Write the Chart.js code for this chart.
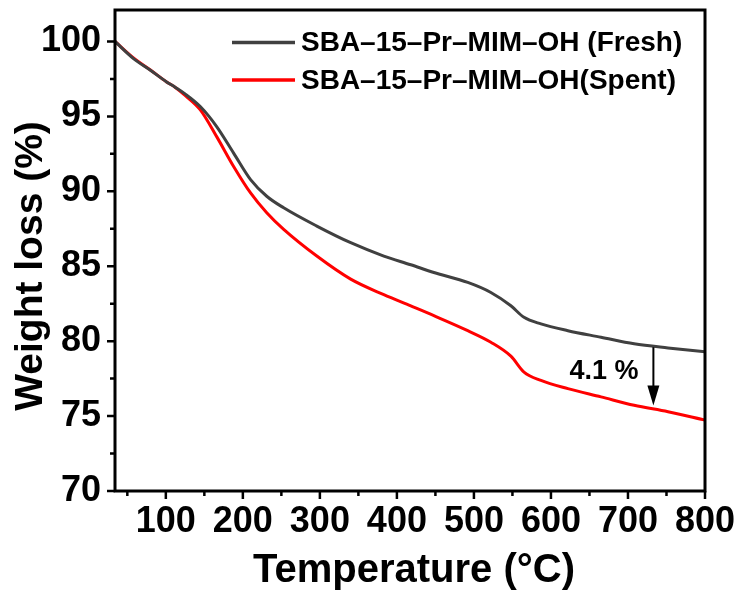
<!DOCTYPE html>
<html>
<head>
<meta charset="utf-8">
<script src="https://cdn.jsdelivr.net/npm/chart.js@4.4.0/dist/chart.umd.min.js"></script>
<style>
  html, body { margin: 0; padding: 0; background: #fff; }
  #wrap { width: 740px; height: 594px; }
</style>
</head>
<body>
<div id="wrap"><canvas id="tga" width="740" height="594"></canvas></div>
<script>
// TGA curves
var temps     = [34, 58, 80, 101, 112, 125, 145, 166, 188, 210, 231, 253, 296, 340, 383, 418, 448, 492, 522, 548, 565, 587, 622, 665, 708, 752, 800];
var freshLoss = [100, 98.86, 98.08, 97.3, 96.95, 96.5, 95.64, 94.32, 92.55, 90.78, 89.67, 88.9, 87.68, 86.57, 85.68, 85.1, 84.58, 83.92, 83.25, 82.36, 81.59, 81.15, 80.7, 80.26, 79.82, 79.55, 79.3];
var spentLoss = [100, 98.9, 98.1, 97.3, 96.95, 96.4, 95.42, 93.65, 91.66, 89.89, 88.57, 87.46, 85.68, 84.14, 83.1, 82.35, 81.7, 80.7, 79.93, 79.0, 77.94, 77.38, 76.83, 76.28, 75.72, 75.29, 74.73];

var seriesNames  = ['SBA\u201315\u2013Pr\u2013MIM\u2013OH (Fresh)', 'SBA\u201315\u2013Pr\u2013MIM\u2013OH(Spent)'];
var seriesColors = ['#404040', '#ff0000'];

var xTicks      = [100, 200, 300, 400, 500, 600, 700, 800];
var xMinorTicks = [50, 150, 250, 350, 450, 550, 650, 750];
var yTicks      = [70, 75, 80, 85, 90, 95, 100];
var yMinorTicks = [72.5, 77.5, 82.5, 87.5, 92.5, 97.5];

var xTitle = 'Temperature (\u00B0C)';
var yTitle = 'Weight loss (%)';

// annotation: the gap between the two curves
var gapText   = '4.1 %';
var gapTextAt = [669, 78.0];
var gapArrow  = [733, 79.6, 75.7];   // x, from y, to y

var FONT = "'Liberation Sans', Arial, sans-serif";

function pts(ys) {
  return temps.map(function (t, i) { return { x: t, y: ys[i] }; });
}

var extras = {
  id: 'extras',
  afterDatasetsDraw: function (chart) {
    var ctx = chart.ctx, a = chart.chartArea;
    var xs = chart.scales.x, ys = chart.scales.y;
    ctx.save();

    // frame
    ctx.strokeStyle = '#000';
    ctx.lineWidth = 3;
    ctx.strokeRect(a.left, a.top, a.right - a.left, a.bottom - a.top);

    // tick marks, outward
    ctx.lineWidth = 2.5;
    ctx.beginPath();
    xTicks.forEach(function (v) { var p = xs.getPixelForValue(v); ctx.moveTo(p, a.bottom); ctx.lineTo(p, a.bottom + 8); });
    xMinorTicks.forEach(function (v) { var p = xs.getPixelForValue(v); ctx.moveTo(p, a.bottom); ctx.lineTo(p, a.bottom + 5); });
    yTicks.forEach(function (v) { var p = ys.getPixelForValue(v); ctx.moveTo(a.left, p); ctx.lineTo(a.left - 8, p); });
    yMinorTicks.forEach(function (v) { var p = ys.getPixelForValue(v); ctx.moveTo(a.left, p); ctx.lineTo(a.left - 5, p); });
    ctx.stroke();

    // legend
    ctx.font = 'bold 28px ' + FONT;
    ctx.textBaseline = 'middle';
    ctx.textAlign = 'left';
    ctx.fillStyle = '#000';
    var legY = [42.5, 80];
    seriesNames.forEach(function (name, i) {
      ctx.strokeStyle = seriesColors[i];
      ctx.lineWidth = 3.5;
      ctx.beginPath();
      ctx.moveTo(232, legY[i]);
      ctx.lineTo(295, legY[i]);
      ctx.stroke();
      ctx.fillText(name, 301, legY[i] + 1);
    });

    // gap arrow + label
    var ax = xs.getPixelForValue(gapArrow[0]);
    var ay0 = ys.getPixelForValue(gapArrow[1]);
    var ay1 = ys.getPixelForValue(gapArrow[2]);
    ctx.strokeStyle = '#000';
    ctx.lineWidth = 2;
    ctx.beginPath();
    ctx.moveTo(ax, ay0);
    ctx.lineTo(ax, ay1 - 14);
    ctx.stroke();
    ctx.beginPath();
    ctx.moveTo(ax - 6, ay1 - 20);
    ctx.lineTo(ax + 6, ay1 - 20);
    ctx.lineTo(ax, ay1);
    ctx.closePath();
    ctx.fill();

    ctx.font = 'bold 27px ' + FONT;
    ctx.textAlign = 'center';
    ctx.fillText(gapText, xs.getPixelForValue(gapTextAt[0]), ys.getPixelForValue(gapTextAt[1]));

    // axis titles
    ctx.font = 'bold 40px ' + FONT;
    ctx.fillText(xTitle, 414, 571);
    ctx.translate(31, 266);
    ctx.rotate(-Math.PI / 2);
    ctx.font = 'bold 39px ' + FONT;
    ctx.fillText(yTitle, 0, 0);

    ctx.restore();
  }
};

var chart = new Chart(document.getElementById('tga').getContext('2d'), {
  type: 'line',
  data: {
    datasets: [
      { label: seriesNames[0], data: pts(freshLoss), borderColor: seriesColors[0], borderWidth: 3,
        pointRadius: 0, cubicInterpolationMode: 'monotone', fill: false },
      { label: seriesNames[1], data: pts(spentLoss), borderColor: seriesColors[1], borderWidth: 3,
        pointRadius: 0, cubicInterpolationMode: 'monotone', fill: false }
    ]
  },
  options: {
    responsive: false,
    animation: false,
    layout: { padding: { top: 10, right: 35, left: 0, bottom: 0 } },
    plugins: { legend: { display: false }, tooltip: { enabled: false } },
    scales: {
      x: {
        type: 'linear', min: 34, max: 800,
        afterBuildTicks: function (s) { s.ticks = xTicks.map(function (v) { return { value: v }; }); },
        afterFit: function (s) { s.height = 103; s.paddingLeft = 0; s.paddingRight = 0; },
        grid: { display: false, drawTicks: false },
        border: { display: false },
        ticks: { autoSkip: false, maxRotation: 0, padding: 9, color: '#000',
                 font: { family: FONT, size: 36, weight: 'bold' } }
      },
      y: {
        type: 'linear', min: 70, max: 102.1,
        afterBuildTicks: function (s) { s.ticks = yTicks.map(function (v) { return { value: v }; }); },
        afterFit: function (s) { s.width = 115; s.paddingTop = 0; s.paddingBottom = 0; },
        grid: { display: false, drawTicks: false },
        border: { display: false },
        ticks: { padding: 14, color: '#000',
                 font: { family: FONT, size: 36, weight: 'bold' } }
      }
    }
  },
  plugins: [extras]
});
</script>
</body>
</html>
